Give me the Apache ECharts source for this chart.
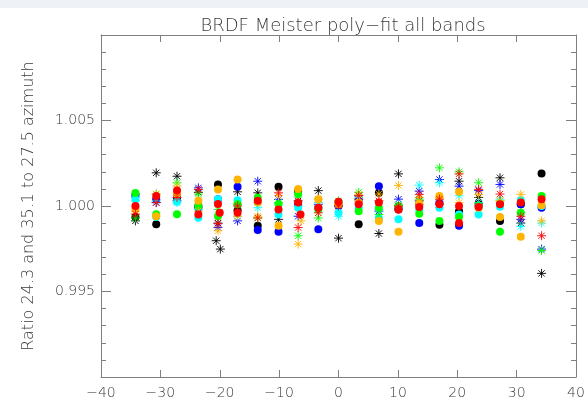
<!DOCTYPE html>
<html>
<head>
<meta charset="utf-8">
<script src="https://cdn.jsdelivr.net/npm/echarts@6/dist/echarts.min.js"></script>
<style>
  html, body { margin: 0; padding: 0; background: #fff; }
</style>
</head>
<body>
<div id="main" style="width: 588px; height: 405px"></div>
<script>
// view angles (deg) shared by every band
var angles = [-34.2, -30.7, -27.2, -23.6, -20.3, -17.0, -13.6, -10.1, -6.8, -3.4, 0,
              3.4, 6.8, 10.1, 13.6, 17.0, 20.3, 23.6, 27.2, 30.7, 34.2];

var bandNames = ['black', 'blue', 'cyan', 'green', 'orange', 'red'];
var bandColors = ['#000000', '#0000ff', '#00ffff', '#00ff00', '#ffb400', '#ff0000'];

// filled circles: ratio 24.3 / 27.5
var circBlack  = [0.99935, 0.99894, 1.0004, 1.0000, 1.00126, 0.99975, 0.99884, 1.00112, 1.00087, 0.9999, 1.0001,
                  0.99894, 1.00077, 0.9998, 1.0001, 0.9989, 0.9997, 1.00013, 0.99913, 1.0001, 1.0019];
var circBlue   = [1.00058, 1.0004, 1.0006, 0.9999, 1.0004, 1.00112, 0.9986, 0.99849, 1.0001, 0.99864, 1.0000,
                  1.0003, 1.00116, 0.9999, 0.9990, 1.0002, 0.99884, 1.0000, 1.0001, 1.0001, 0.9999];
var circCyan   = [1.0004, 0.99935, 1.00025, 0.99932, 1.0004, 1.00033, 1.0002, 0.9995, 0.9999, 0.9999, 0.9996,
                  0.9999, 0.9993, 0.99922, 0.9998, 0.9999, 0.9995, 0.9995, 0.99995, 1.00033, 1.0000];
var circGreen  = [1.00076, 0.99952, 0.99952, 1.0000, 0.9994, 1.0001, 1.00048, 1.0001, 1.00068, 0.9998, 1.0001,
                  0.9997, 0.9999, 1.0000, 0.99955, 0.99913, 0.99936, 1.0000, 0.9985, 0.9996, 1.00058];
var circOrange = [0.99983, 0.9994, 1.00068, 1.0003, 1.00097, 1.00155, 1.0002, 0.99884, 1.0010, 1.00039, 1.0001,
                  1.0002, 0.99913, 0.9985, 1.00013, 1.00058, 1.00083, 0.9999, 0.99936, 0.9982, 1.00004];
var circRed    = [1.0000, 1.00058, 1.0009, 0.9995, 1.00012, 0.9996, 1.0003, 0.9998, 1.0002, 0.9999, 1.00025,
                  1.0001, 1.0002, 0.9998, 0.99994, 1.0001, 1.0000, 0.99994, 1.0001, 1.0002, 1.0004];

// asterisks: ratio 35.1 / 27.5
var starBlack  = [0.99913, 1.00194, 1.00174, 1.0008, 0.9990, 1.00083, 1.00077, 0.99922, 1.0003, 1.0009, 0.99812,
                  1.0004, 0.99839, 1.00188, 1.0003, 1.0001, 1.00145, 1.0005, 1.00165, 0.9990, 0.99606];
var starBlue   = [1.0007, 1.0002, 1.0003, 1.00106, 0.99874, 0.99913, 1.00145, 1.00039, 0.9994, 1.0001, 1.0000,
                  1.0006, 0.9997, 1.0004, 1.00087, 1.00155, 1.00116, 1.0009, 1.00126, 0.99922, 0.99748];
var starCyan   = [1.0003, 1.0003, 1.0002, 0.9998, 1.0002, 0.9994, 0.9999, 1.0002, 1.0000, 1.0002, 0.9994,
                  1.0005, 0.9998, 1.0001, 1.00122, 1.00136, 1.0006, 1.0002, 1.0004, 0.9988, 0.9990];
var starGreen  = [0.9993, 1.0007, 1.00136, 1.0007, 0.9998, 1.0001, 0.9993, 1.0002, 0.99826, 0.9993, 1.0003,
                  1.0008, 0.9995, 1.0000, 1.0004, 1.00223, 1.0020, 1.00136, 1.0003, 0.9996, 0.9974];
var starOrange = [0.9997, 1.0007, 1.00116, 0.9997, 0.99855, 0.9994, 0.9994, 1.0006, 0.99777, 1.0004, 1.0001,
                  1.00068, 1.0007, 1.0012, 1.0005, 1.0005, 1.0002, 1.00068, 1.0003, 1.00068, 0.99913];
var starRed    = [0.99953, 1.0002, 1.0005, 1.00097, 0.99897, 1.0000, 0.9993, 1.00077, 0.99874, 0.9996, 1.0000,
                  1.0006, 1.0003, 1.0000, 1.00068, 1.0004, 1.00188, 1.00097, 1.0007, 0.9994, 0.99826];

// extra points that sit off the common columns
var extraStarBlack = [[-20.6, 0.99797], [-19.9, 0.99748]];
var extraCircRed   = [[-20.0, 0.9996], [-6.4, 0.9995], [20.3, 0.9990]];
var extraStarOrange = [[-6.3, 0.99913]];

var xTicks = [-40, -30, -20, -10, 0, 10, 20, 30, 40];
var yLabels = [0.995, 1.000, 1.005];

var circles = [circBlack, circBlue, circCyan, circGreen, circOrange, circRed];
var stars = [starBlack, starBlue, starCyan, starGreen, starOrange, starRed];

function pairs(vals, extra) {
  var out = angles.map(function (a, i) { return [a, vals[i]]; });
  return extra ? out.concat(extra) : out;
}

var starPath = 'path://M5,0L5,10M0,5L10,5M1.5,1.5L8.5,8.5M1.5,8.5L8.5,1.5';
var fontFam = 'DejaVu Sans';
var txt = '#3a3a3a';
var frame = '#7f7f7f';

var series = [];
bandNames.forEach(function (b, i) {
  var ce = b === 'red' ? extraCircRed : null;
  var se = b === 'black' ? extraStarBlack : (b === 'orange' ? extraStarOrange : null);
  series.push({
    name: b + ' circle', type: 'scatter', data: pairs(circles[i], ce),
    symbol: 'circle', symbolSize: 8,
    itemStyle: { color: bandColors[i], opacity: 1 },
    silent: true
  });
  series.push({
    name: b + ' star', type: 'scatter', data: pairs(stars[i], se),
    symbol: starPath, symbolSize: 9,
    itemStyle: { color: 'none', borderColor: bandColors[i], borderWidth: 1, opacity: 0.9 },
    silent: true
  });
});

var chartDom = document.getElementById('main');
var myChart = echarts.init(chartDom);
var option = {
  animation: false,
  backgroundColor: '#fff',
  textStyle: { fontFamily: fontFam, color: txt },
  title: {
    text: 'BRDF Meister poly\u2212fit all bands',
    left: 338, top: 12, textAlign: 'center',
    textStyle: { fontFamily: fontFam, fontSize: 18, fontWeight: 200, color: txt }
  },
  graphic: [
    { type: 'rect', shape: { x: 0, y: 0, width: 588, height: 8 }, style: { fill: '#eef1f6' }, silent: true }
  ],
  grid: { left: 101, right: 12, top: 35, bottom: 28, containLabel: false },
  xAxis: [
    {
      type: 'value', min: -40, max: 40, interval: 10, position: 'bottom',
      axisLine: { show: true, onZero: false, lineStyle: { color: frame, width: 1 } },
      axisTick: { show: true, inside: true, length: 7, lineStyle: { color: frame } },
      axisLabel: {
        margin: 9, fontSize: 14, fontWeight: 200, color: txt, fontFamily: fontFam,
        formatter: function (v) { return xTicks.indexOf(v) >= 0 ? String(v).replace('-', '\u2212') : ''; }
      },
      splitLine: { show: false }
    },
    {
      type: 'value', min: -40, max: 40, interval: 10, position: 'top',
      axisLine: { show: true, onZero: false, lineStyle: { color: frame, width: 1 } },
      axisTick: { show: true, inside: true, length: 7, lineStyle: { color: frame } },
      axisLabel: { show: false },
      splitLine: { show: false }
    }
  ],
  yAxis: [
    {
      type: 'value', min: 0.990, max: 1.010, interval: 0.005, position: 'left',
      name: 'Ratio 24.3 and 35.1 to 27.5 azimuth',
      nameLocation: 'middle', nameGap: 64, nameRotate: 90,
      nameTextStyle: { fontSize: 16, fontWeight: 200, color: txt, fontFamily: fontFam },
      axisLine: { show: true, onZero: false, lineStyle: { color: frame, width: 1 } },
      axisTick: { show: true, inside: true, length: 10, lineStyle: { color: frame } },
      minorTick: { show: true, splitNumber: 5, length: 5, lineStyle: { color: frame } },
      axisLabel: {
        margin: 6, fontSize: 14, fontWeight: 200, color: txt, fontFamily: fontFam,
        formatter: function (v) {
          for (var k = 0; k < yLabels.length; k++) {
            if (Math.abs(v - yLabels[k]) < 1e-7) return yLabels[k].toFixed(3);
          }
          return '';
        }
      },
      splitLine: { show: false }, minorSplitLine: { show: false }
    },
    {
      type: 'value', min: 0.990, max: 1.010, interval: 0.005, position: 'right',
      axisLine: { show: true, onZero: false, lineStyle: { color: frame, width: 1 } },
      axisTick: { show: true, inside: true, length: 10, lineStyle: { color: frame } },
      minorTick: { show: true, splitNumber: 5, length: 5, lineStyle: { color: frame } },
      axisLabel: { show: false },
      splitLine: { show: false }, minorSplitLine: { show: false }
    }
  ],
  series: series
};

myChart.setOption(option);
window.addEventListener("resize", function () {
  myChart.resize();
});
</script>
</body>
</html>
